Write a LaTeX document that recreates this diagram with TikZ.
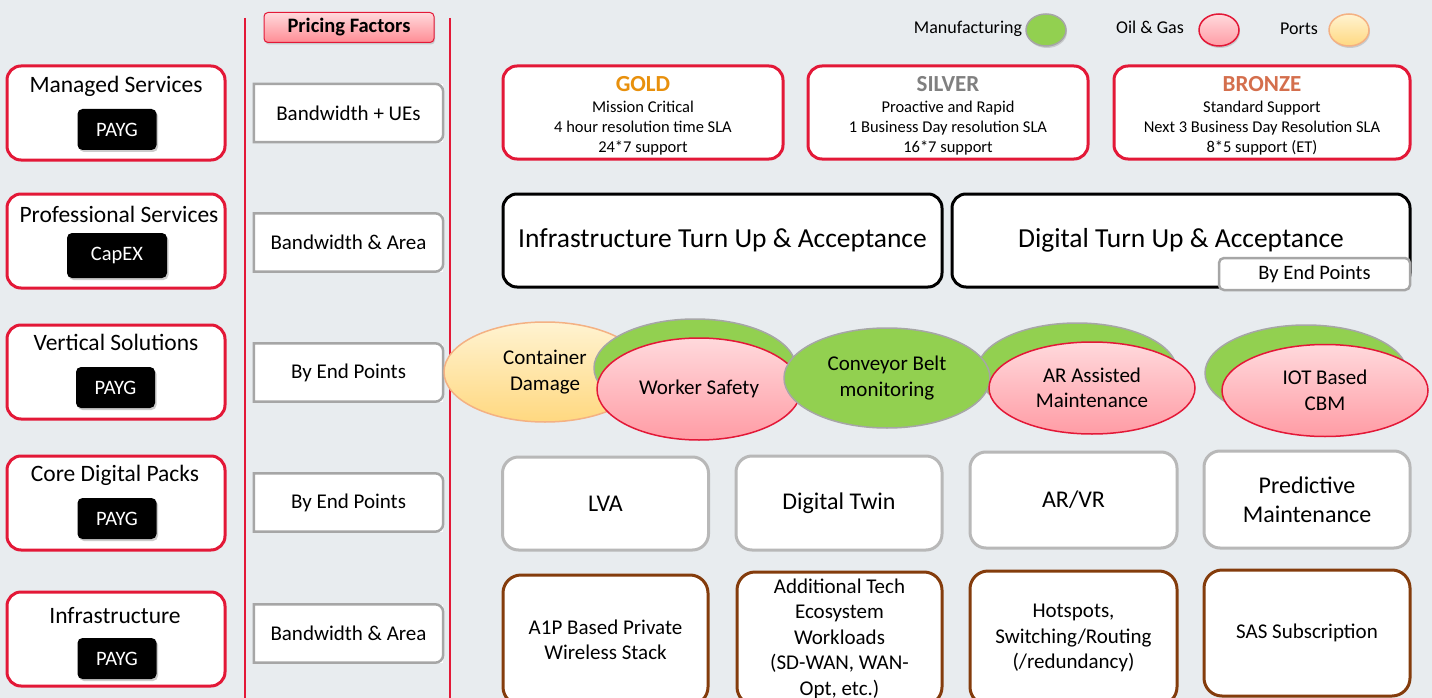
\documentclass[tikz,border=0pt]{standalone}
\usepackage{fontspec}
\setmainfont{Carlito}
\usepackage{tikz}
\usetikzlibrary{positioning,shapes.geometric,shadows}

\definecolor{bgc}{HTML}{E8ECEF}
\definecolor{segred}{HTML}{E31837}
\definecolor{pgray}{HTML}{A6A6A6}
\definecolor{brownc}{HTML}{843C0C}
\definecolor{goldc}{HTML}{E8900C}
\definecolor{silverc}{HTML}{808080}
\definecolor{bronzec}{HTML}{D46F4D}
\definecolor{mfggreen}{HTML}{92D050}
\definecolor{oiltop}{HTML}{FFD9DC}
\definecolor{oilbot}{HTML}{FF9CA5}
\definecolor{porttop}{HTML}{FFF3D1}
\definecolor{portbot}{HTML}{FFD880}
\definecolor{portline}{HTML}{F4B183}

\tikzset{
  segment/.style={draw=segred, line width=3pt, fill=white, rounded corners=14pt, minimum width=218pt, minimum height=94pt},
  segtitle/.style={font=\fontsize{23.5}{26}\selectfont},
  paytag/.style={fill=black, text=white, rounded corners=5pt, minimum width=79pt, minimum height=41pt, font=\fontsize{20.5}{24}\selectfont, drop shadow={shadow xshift=1.5pt, shadow yshift=-2pt, opacity=.4}},
  pricetext/.style={fill=white, minimum width=189pt, minimum height=58pt, font=\fontsize{21}{24}\selectfont},
  priceline/.style={draw=pgray, line width=2.5pt},
  slabox/.style={draw=segred, line width=3pt, fill=white, rounded corners=14pt, minimum height=93pt},
  slatext/.style={align=center, font=\fontsize{16.5}{20}\selectfont},
  turnup/.style={draw=black, line width=3pt, fill=white, rounded corners=14pt, minimum height=93pt, font=\fontsize{27.5}{30}\selectfont},
  usecase/.style={ellipse, line width=1.5pt, align=center, inner sep=0pt, font=\fontsize{21}{25.5}\selectfont},
  mfg/.style={usecase, draw=pgray, fill=mfggreen},
  oil/.style={usecase, draw=segred, top color=oiltop, bottom color=oilbot},
  port/.style={usecase, draw=portline, top color=porttop, bottom color=portbot},
  corepack/.style={draw=pgray!80, line width=3pt, fill=white, rounded corners=16pt, minimum width=206pt, align=center, font=\fontsize{24}{29}\selectfont},
  infrabox/.style={draw=brownc, line width=3pt, fill=white, rounded corners=18pt, minimum width=205pt, align=center, font=\fontsize{21}{25.5}\selectfont},
  legend/.style={font=\fontsize{18}{22}\selectfont},
  swatch/.style={ellipse, line width=1.5pt, minimum width=40pt, minimum height=32pt, drop shadow={shadow xshift=1pt, shadow yshift=-2pt, opacity=.3}}
}

\begin{document}
\begin{tikzpicture}[x=1pt, y=-1pt]
	\fill[bgc] (0,0) rectangle (1432,698);
	\useasboundingbox (0,0) rectangle (1432,698);
	% column rules and header
	\draw[segred, line width=1.5pt] (245,18) -- (245,698);
	\draw[segred, line width=1.5pt] (450,18) -- (450,698);
	\node[draw=segred, line width=1pt, rounded corners=4pt, top color=oiltop, bottom color=oilbot!90!red, minimum width=170pt, minimum height=30pt, font=\fontsize{20.5}{24}\selectfont\bfseries, drop shadow={shadow xshift=1pt, shadow yshift=-2pt, opacity=.3}] (head) at (349,27.5) {Pricing Factors};
	% legend
	\node[legend] (lmfg) at (968,29) {Manufacturing};
	\node[swatch, draw=pgray, fill=mfggreen] (smfg) at (1046,30) {};
	\node[legend] (loil) at (1150,27) {Oil \& Gas};
	\node[swatch, draw=segred, top color=oiltop, bottom color=oilbot] (soil) at (1219,30) {};
	\node[legend] (lport) at (1299,29) {Ports};
	\node[swatch, draw=portline, top color=porttop, bottom color=portbot] (sport) at (1349,30) {};
	% service segments
	\node[segment] (ms) at (116,113) {};
	\node[segtitle] (msT) at (116,86.5) {Managed Services};
	\node[paytag] (msP) at (117,129.5) {PAYG};
	\node[segment] (ps) at (116,241) {};
	\node[segtitle] (psT) at (119,214.5) {Professional Services};
	\node[paytag, minimum width=100pt, minimum height=45pt] (psP) at (117,255.5) {CapEX};
	\node[segment] (vs) at (116,372) {};
	\node[segtitle] (vsT) at (116,342.5) {Vertical Solutions};
	\node[paytag] (vsP) at (115.5,387.5) {PAYG};
	\node[segment] (cdp) at (116,503) {};
	\node[segtitle] (cdpT) at (115,475.5) {Core Digital Packs};
	\node[paytag] (cdpP) at (117,518.5) {PAYG};
	\node[segment] (inf) at (116,639) {};
	\node[segtitle] (infT) at (115,615.5) {Infrastructure};
	\node[paytag] (infP) at (117,658.5) {PAYG};
	% pricing factors
	\node[pricetext] (pf1) at (348.5,113) {Bandwidth + UEs};
	\node[pricetext] (pf2) at (348.5,242.5) {Bandwidth \& Area};
	\node[pricetext] (pf3) at (348.5,372.5) {By End Points};
	\node[pricetext] (pf4) at (348.5,502.5) {By End Points};
	\node[pricetext] (pf5) at (348.5,633.5) {Bandwidth \& Area};
	\draw[priceline] (pf1.south west) -- (pf1.north west) [rounded corners=8pt] -- (pf1.north east) -- (pf1.south east) [sharp corners] -- cycle;
	\draw[priceline] (pf2.south west) -- (pf2.north west) [rounded corners=8pt] -- (pf2.north east) -- (pf2.south east) [sharp corners] -- cycle;
	\draw[priceline] (pf3.south west) -- (pf3.north west) [rounded corners=8pt] -- (pf3.north east) -- (pf3.south east) [sharp corners] -- cycle;
	\draw[priceline] (pf4.south west) -- (pf4.north west) [rounded corners=8pt] -- (pf4.north east) -- (pf4.south east) [sharp corners] -- cycle;
	\draw[priceline] (pf5.south west) -- (pf5.north west) [rounded corners=8pt] -- (pf5.north east) -- (pf5.south east) [sharp corners] -- cycle;
	% support levels
	\node[slabox, minimum width=280pt] (gold) at (643,112.5) {};
	\node[slatext] (goldT) at (643,116) {{\fontsize{23}{24}\selectfont\bfseries\color{goldc}GOLD}\\[1pt]Mission Critical\\4 hour resolution time SLA\\24*7 support};
	\node[slabox, minimum width=280pt] (silver) at (948,112.5) {};
	\node[slatext] (silverT) at (948,116) {{\fontsize{23}{24}\selectfont\bfseries\color{silverc}SILVER}\\[1pt]Proactive and Rapid\\1 Business Day resolution SLA\\16*7 support};
	\node[slabox, minimum width=296pt] (bronze) at (1262,112.5) {};
	\node[slatext] (bronzeT) at (1262,116) {{\fontsize{23}{24}\selectfont\bfseries\color{bronzec}BRONZE}\\[1pt]Standard Support\\Next 3 Business Day Resolution SLA\\8*5 support (ET)};
	% turn up
	\node[turnup, minimum width=439pt] (itu) at (722.5,240.5) {Infrastructure Turn Up \& Acceptance};
	\node[turnup, minimum width=458pt] (dtu) at (1181,240.5) {Digital Turn Up \& Acceptance};
	\node[draw=pgray, line width=2.5pt, fill=white, rounded corners=5pt, minimum width=191pt, minimum height=32pt, font=\fontsize{20.5}{24}\selectfont] (dtuP) at (1314.5,274) {By End Points};
	% vertical solutions
	\node[port, minimum width=202pt, minimum height=100pt] (cont) at (545,372) {Container\\Damage};
	\node[mfg, minimum width=202pt, minimum height=98pt] (wsB) at (695,368) {};
	\node[oil, minimum width=204pt, minimum height=102pt] (ws) at (699,389) {Worker Safety};
	\node[mfg, minimum width=200pt, minimum height=96pt] (arB) at (1077,371) {};
	\node[mfg, minimum width=206pt, minimum height=100pt] (conv) at (887,378) {Conveyor Belt\\monitoring};
	\node[oil, minimum width=206pt, minimum height=92pt] (ar) at (1092,388) {AR Assisted\\Maintenance};
	\node[mfg, minimum width=202pt, minimum height=96pt] (iotB) at (1306,373) {};
	\node[oil, minimum width=206pt, minimum height=92pt] (iot) at (1325,390.5) {IOT Based\\CBM};
	% core digital packs
	\node[corepack, minimum height=93pt] (lva) at (605.5,503.5) {LVA};
	\node[corepack, minimum height=94pt] (twin) at (839,503) {Digital Twin};
	\node[corepack, minimum width=207pt, minimum height=96pt] (arvr) at (1073.5,500) {AR/VR};
	\node[corepack, minimum height=97pt] (pm) at (1307,499.5) {Predictive\\Maintenance};
	% infrastructure
	\node[infrabox, minimum height=130pt] (a1p) at (605.5,640) {A1P Based Private\\Wireless Stack};
	\node[infrabox, minimum height=133pt] (tech) at (839.5,638.5) {Additional Tech\\Ecosystem\\Workloads\\(SD-WAN, WAN-\\Opt, etc.)};
	\node[infrabox, minimum width=207pt, minimum height=134pt] (hot) at (1073.5,638) {Hotspots,\\Switching/Routing\\(/redundancy)};
	\node[infrabox, minimum width=206pt, minimum height=126pt] (sas) at (1307,633) {SAS Subscription};
\end{tikzpicture}
\end{document}
